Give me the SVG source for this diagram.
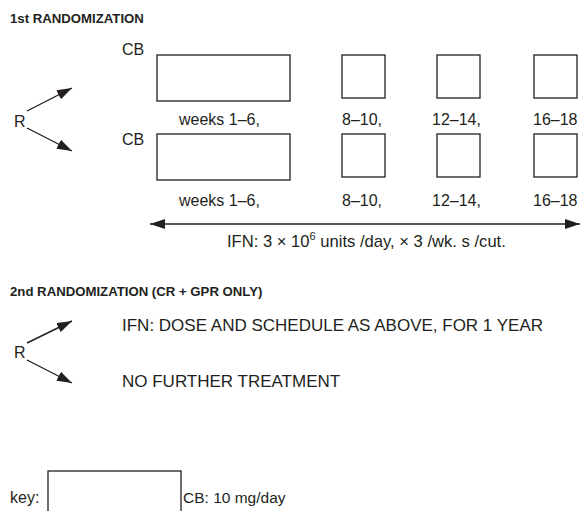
<svg xmlns="http://www.w3.org/2000/svg" width="582" height="511" viewBox="0 0 582 511">
<style>
.t{font-family:"Liberation Sans",Arial,sans-serif;font-size:16px;fill:#231f20}
.l{font-size:17px}
.b{font-family:"Liberation Sans",Arial,sans-serif;font-size:13.2px;font-weight:bold;fill:#231f20}
.box{fill:#fff;stroke:#231f20;stroke-width:1.3}
.ln{stroke:#231f20;stroke-width:1.4;fill:none}
</style>
<defs>
<marker id="ah" viewBox="0 0 15 10" refX="15" refY="5" markerWidth="15" markerHeight="10" markerUnits="userSpaceOnUse" orient="auto-start-reverse">
<path d="M0,0 L15,5 L0,10 Z" fill="#231f20"/>
</marker>
</defs>
<rect width="582" height="511" fill="#fff"/>
<text class="b" x="10" y="23">1st RANDOMIZATION</text>
<g id="r1"><text class="t" x="14" y="127">R</text></g>
<g id="cb1">
<text class="t" x="122" y="55">CB</text>
<rect class="box" x="157" y="55" width="133" height="46"/>
</g>
<g id="s1a"><rect class="box" x="342" y="55" width="43" height="43"/></g>
<g id="s1b"><rect class="box" x="437" y="55" width="43" height="43"/></g>
<g id="s1c"><rect class="box" x="534" y="55" width="43" height="43"/></g>
<g id="lab1">
<text class="t" x="179" y="125">weeks 1–6,</text>
<text class="t" x="342" y="125">8–10,</text>
<text class="t" x="432" y="125">12–14,</text>
<text class="t" x="533" y="125">16–18</text>
</g>
<g id="cb2">
<text class="t" x="122" y="145">CB</text>
<rect class="box" x="157" y="134" width="133" height="46"/>
</g>
<g id="s2a"><rect class="box" x="342" y="134" width="43" height="43"/></g>
<g id="s2b"><rect class="box" x="437" y="134" width="43" height="43"/></g>
<g id="s2c"><rect class="box" x="534" y="134" width="43" height="43"/></g>
<g id="lab2">
<text class="t" x="179" y="206">weeks 1–6,</text>
<text class="t" x="342" y="206">8–10,</text>
<text class="t" x="432" y="206">12–14,</text>
<text class="t" x="533" y="206">16–18</text>
</g>
<g id="ifn1"><text class="t" x="227" y="247" style="font-size:16.6px">IFN: 3 × 10<tspan dy="-7" font-size="11">6</tspan><tspan dy="7"> units /day, × 3 /wk. s /cut.</tspan></text></g>
<text class="b" x="10" y="296">2nd RANDOMIZATION (CR + GPR ONLY)</text>
<g id="r2"><text class="t" x="14" y="358">R</text></g>
<g id="ifn2"><text class="t l" x="122" y="331">IFN: DOSE AND SCHEDULE AS ABOVE, FOR 1 YEAR</text></g>
<g id="nft"><text class="t l" x="122" y="387">NO FURTHER TREATMENT</text></g>
<g id="key">
<text class="t" x="10" y="503">key:</text>
<rect class="box" x="48" y="471" width="133" height="46"/>
<text class="t" x="183" y="503" style="font-size:15.5px">CB: 10 mg/day</text>
</g>
<g id="connectors">
<line class="ln" x1="27" y1="111" x2="72" y2="88" marker-end="url(#ah)"/>
<line class="ln" x1="27" y1="128" x2="72" y2="151" marker-end="url(#ah)"/>
<line class="ln" x1="150" y1="224" x2="580" y2="224" marker-start="url(#ah)" marker-end="url(#ah)"/>
<line class="ln" x1="27" y1="343" x2="72" y2="321" marker-end="url(#ah)"/>
<line class="ln" x1="27" y1="360" x2="72" y2="383" marker-end="url(#ah)"/>
</g>
</svg>
